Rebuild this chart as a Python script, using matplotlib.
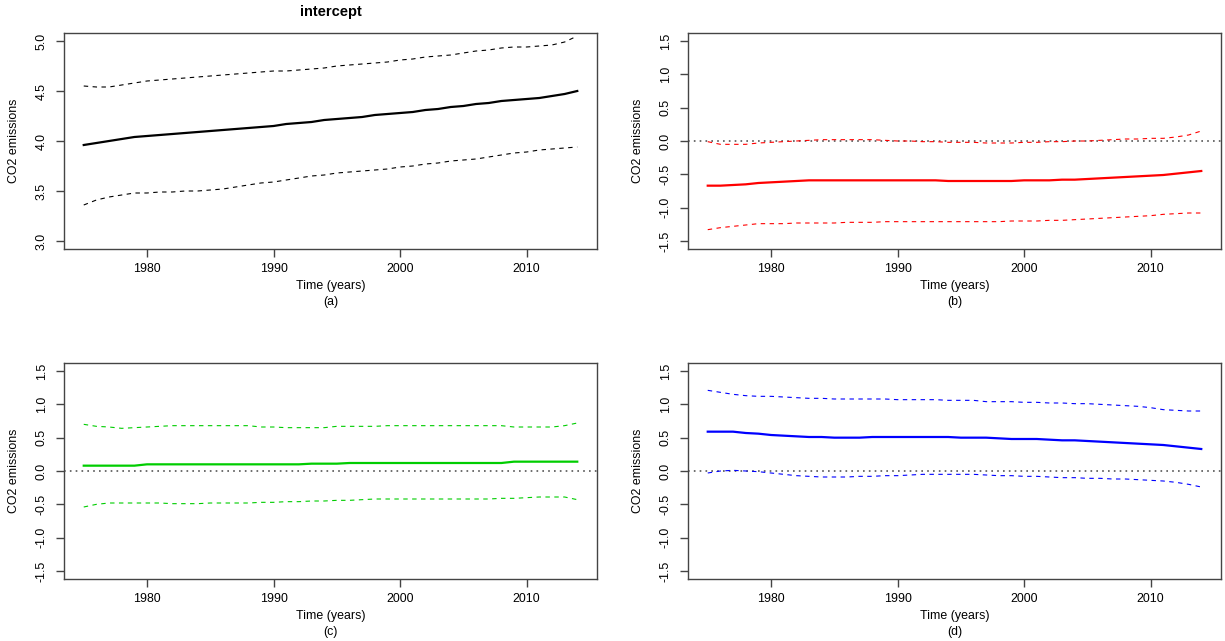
import numpy as np
import matplotlib
matplotlib.use("Agg")
import matplotlib.pyplot as plt

plt.rcParams['font.family'] = ['Liberation Sans', 'DejaVu Sans']

# years of the time-varying coefficients
years = list(range(1975, 2015))

# (a) intercept
a_fit = [3.96, 3.98, 4.00, 4.02, 4.04, 4.05, 4.06, 4.07, 4.08, 4.09,
         4.10, 4.11, 4.12, 4.13, 4.14, 4.15, 4.17, 4.18, 4.19, 4.21,
         4.22, 4.23, 4.24, 4.26, 4.27, 4.28, 4.29, 4.31, 4.32, 4.34,
         4.35, 4.37, 4.38, 4.40, 4.41, 4.42, 4.43, 4.45, 4.47, 4.50]
a_up = [4.55, 4.54, 4.54, 4.56, 4.58, 4.60, 4.61, 4.62, 4.63, 4.64,
        4.65, 4.66, 4.67, 4.68, 4.69, 4.70, 4.70, 4.71, 4.72, 4.73,
        4.75, 4.76, 4.77, 4.78, 4.79, 4.81, 4.82, 4.84, 4.85, 4.86,
        4.88, 4.90, 4.91, 4.93, 4.94, 4.94, 4.95, 4.96, 4.99, 5.05]
a_lo = [3.36, 3.41, 3.44, 3.46, 3.48, 3.48, 3.49, 3.49, 3.50, 3.50,
        3.51, 3.52, 3.54, 3.56, 3.58, 3.59, 3.61, 3.63, 3.65, 3.66,
        3.68, 3.69, 3.70, 3.71, 3.72, 3.74, 3.75, 3.77, 3.78, 3.80,
        3.81, 3.82, 3.84, 3.86, 3.88, 3.89, 3.91, 3.92, 3.93, 3.94]

# (b)
b_fit = [-0.67, -0.67, -0.66, -0.65, -0.63, -0.62, -0.61, -0.60, -0.59, -0.59,
         -0.59, -0.59, -0.59, -0.59, -0.59, -0.59, -0.59, -0.59, -0.59, -0.60,
         -0.60, -0.60, -0.60, -0.60, -0.60, -0.59, -0.59, -0.59, -0.58, -0.58,
         -0.57, -0.56, -0.55, -0.54, -0.53, -0.52, -0.51, -0.49, -0.47, -0.45]
b_up = [-0.01, -0.05, -0.05, -0.05, -0.03, -0.02, -0.01, 0.00, 0.01, 0.02,
        0.02, 0.02, 0.02, 0.02, 0.01, 0.00, 0.00, -0.01, -0.01, -0.02,
        -0.02, -0.02, -0.03, -0.03, -0.03, -0.02, -0.02, -0.01, -0.01, 0.00,
        0.00, 0.01, 0.02, 0.03, 0.03, 0.04, 0.04, 0.06, 0.09, 0.15]
b_lo = [-1.33, -1.30, -1.28, -1.26, -1.24, -1.24, -1.24, -1.23, -1.23, -1.23,
        -1.23, -1.22, -1.22, -1.22, -1.21, -1.21, -1.21, -1.21, -1.21, -1.21,
        -1.21, -1.21, -1.21, -1.21, -1.20, -1.20, -1.20, -1.19, -1.19, -1.18,
        -1.17, -1.16, -1.15, -1.14, -1.13, -1.12, -1.10, -1.09, -1.08, -1.08]

# (c)
c_fit = [0.08, 0.08, 0.08, 0.08, 0.08, 0.10, 0.10, 0.10, 0.10, 0.10,
         0.10, 0.10, 0.10, 0.10, 0.10, 0.10, 0.10, 0.10, 0.11, 0.11,
         0.11, 0.12, 0.12, 0.12, 0.12, 0.12, 0.12, 0.12, 0.12, 0.12,
         0.12, 0.12, 0.12, 0.12, 0.14, 0.14, 0.14, 0.14, 0.14, 0.14]
c_up = [0.70, 0.67, 0.66, 0.64, 0.65, 0.66, 0.67, 0.68, 0.68, 0.68,
        0.68, 0.68, 0.68, 0.68, 0.66, 0.66, 0.65, 0.65, 0.65, 0.65,
        0.67, 0.67, 0.67, 0.67, 0.68, 0.68, 0.68, 0.68, 0.68, 0.68,
        0.68, 0.68, 0.68, 0.68, 0.66, 0.66, 0.66, 0.66, 0.68, 0.72]
c_lo = [-0.54, -0.50, -0.48, -0.48, -0.48, -0.48, -0.48, -0.49, -0.49, -0.49,
        -0.48, -0.48, -0.48, -0.48, -0.47, -0.47, -0.46, -0.46, -0.45, -0.45,
        -0.44, -0.44, -0.43, -0.42, -0.42, -0.42, -0.42, -0.42, -0.42, -0.42,
        -0.42, -0.42, -0.42, -0.41, -0.41, -0.40, -0.39, -0.39, -0.39, -0.43]

# (d)
d_fit = [0.59, 0.59, 0.59, 0.57, 0.56, 0.54, 0.53, 0.52, 0.51, 0.51,
         0.50, 0.50, 0.50, 0.51, 0.51, 0.51, 0.51, 0.51, 0.51, 0.51,
         0.50, 0.50, 0.50, 0.49, 0.48, 0.48, 0.48, 0.47, 0.46, 0.46,
         0.45, 0.44, 0.43, 0.42, 0.41, 0.40, 0.39, 0.37, 0.35, 0.33]
d_up = [1.21, 1.18, 1.15, 1.13, 1.12, 1.12, 1.11, 1.10, 1.09, 1.09,
        1.08, 1.08, 1.08, 1.08, 1.08, 1.07, 1.07, 1.07, 1.07, 1.06,
        1.06, 1.06, 1.04, 1.04, 1.04, 1.03, 1.03, 1.02, 1.02, 1.01,
        1.01, 1.00, 0.99, 0.98, 0.97, 0.95, 0.92, 0.91, 0.90, 0.90]
d_lo = [-0.03, 0.00, 0.01, 0.00, -0.01, -0.03, -0.05, -0.07, -0.08, -0.09,
        -0.09, -0.09, -0.08, -0.08, -0.07, -0.07, -0.06, -0.05, -0.05, -0.05,
        -0.05, -0.05, -0.06, -0.07, -0.07, -0.08, -0.08, -0.09, -0.10, -0.10,
        -0.11, -0.11, -0.12, -0.12, -0.13, -0.14, -0.15, -0.17, -0.20, -0.24]

panels = [
    (a_fit, a_up, a_lo, 'black', (2.92, 5.08), [3.0, 3.5, 4.0, 4.5, 5.0], '(a)', False),
    (b_fit, b_up, b_lo, 'red', (-1.62, 1.62), [-1.5, -1.0, -0.5, 0.0, 0.5, 1.0, 1.5], '(b)', True),
    (c_fit, c_up, c_lo, '#00CD00', (-1.62, 1.62), [-1.5, -1.0, -0.5, 0.0, 0.5, 1.0, 1.5], '(c)', True),
    (d_fit, d_up, d_lo, 'blue', (-1.62, 1.62), [-1.5, -1.0, -0.5, 0.0, 0.5, 1.0, 1.5], '(d)', True),
]

W, H = 1225, 641
fig = plt.figure(figsize=(W / 100, H / 100), dpi=100)

# axes boxes in pixels: left, top, right, bottom
boxes = [(64, 33, 597, 249), (688, 33, 1221, 249),
         (64, 363, 597, 579), (688, 363, 1221, 579)]

fs = 8.9
px = 0.72  # points per pixel at 100 dpi
for (fit, up, lo, col, ylim, yt, tag, zero), (l, t, r, b) in zip(panels, boxes):
    ax = fig.add_axes([l / W, 1 - b / H, (r - l) / W, (b - t) / H])
    if zero:
        ax.axhline(0, color='#555555', lw=1.2, ls=(0, (1, 2.5)))
    ax.plot(years, up, color=col, lw=0.8, ls=(0, (4, 4)))
    ax.plot(years, lo, color=col, lw=0.8, ls=(0, (4, 4)))
    ax.plot(years, fit, color=col, lw=1.6)
    ax.set_xlim(1973.44, 2015.56)
    ax.set_ylim(*ylim)
    ax.set_xticks([1980, 1990, 2000, 2010])
    ax.set_yticks(yt)
    ax.set_yticklabels(['%.1f' % v for v in yt])
    for s in ax.spines.values():
        s.set_color('#444444')
        s.set_linewidth(1.0)
    ax.tick_params(direction='out', length=8 * px, width=1.0, color='#444444',
                   labelsize=fs)
    ax.tick_params(axis='x', pad=4)
    ax.tick_params(axis='y', pad=6)
    plt.setp(ax.get_yticklabels(), rotation=90, va='center')
    ax.set_ylabel('CO2 emissions', fontsize=fs, labelpad=11)
    ax.annotate('Time (years)', xy=(0.5, 0), xycoords='axes fraction',
                xytext=(0, -37.5 * px), textcoords='offset points',
                ha='center', va='center', fontsize=fs)
    ax.annotate(tag, xy=(0.5, 0), xycoords='axes fraction',
                xytext=(0, -53 * px), textcoords='offset points',
                ha='center', va='center', fontsize=fs)
    if tag == '(a)':
        ax.set_title('intercept', fontsize=10.5, fontweight='bold', pad=12)

fig.savefig('out.png', dpi=100)
